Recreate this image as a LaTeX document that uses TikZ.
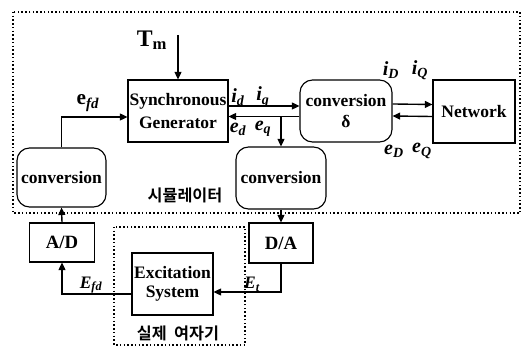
\documentclass[tikz,border=0pt]{standalone}
\usepackage{fontspec}
\setmainfont{Liberation Serif}
\newfontfamily\krfont{Noto Sans CJK KR}[BoldFont={Noto Sans CJK KR Bold}]
\usetikzlibrary{positioning,arrows.meta,calc}
\newcommand{\sv}[2]{\textit{#1}\textsubscript{\textit{#2}}}

\begin{document}
\begin{tikzpicture}[x=0.8pt, y=-0.8pt,
  font=\bfseries\fontsize{14}{15}\selectfont,
  box/.style={draw, line width=0.9pt, align=center, inner sep=1pt},
  conv/.style={box, rounded corners=10pt},
  arr/.style={-{Triangle[length=6pt,width=5.5pt]}, line width=1.1pt},
  frame/.style={line width=1.3pt, dash pattern=on 1.2pt off 1.8pt},
  sig/.style={inner sep=0pt, font=\bfseries\itshape\fontsize{16}{17}\selectfont},
  kor/.style={inner sep=0pt, font=\krfont\bfseries\fontsize{13}{14}\selectfont}
]
\useasboundingbox (0,0) rectangle (522,347);
% frames
\draw[frame] (13,12) rectangle (520,213);
\draw[frame] (114,227) rectangle (245,345);
% blocks
\node[box, minimum width=80pt, minimum height=49.6pt] (sg) at (178,111) {Synchronous\\[3pt]Generator};
\node[conv, minimum width=73.6pt, minimum height=49.6pt] (convd) at (346,111) {conversion\\[2pt]δ};
\node[box, minimum width=65.6pt, minimum height=50.4pt] (net) at (474,111.5) {Network};
\node[conv, minimum width=71.2pt, minimum height=47.2pt] (convl) at (61.5,177.5) {conversion};
\node[conv, minimum width=72pt, minimum height=49.6pt] (convr) at (281,178) {conversion};
\node[box, minimum width=52pt, minimum height=31.2pt, font=\bfseries\fontsize{15}{16}\selectfont] (ad) at (62,242.5) {A/D};
\node[box, minimum width=51.2pt, minimum height=32pt, font=\bfseries\fontsize{15}{16}\selectfont] (da) at (281,243) {D/A};
\node[box, minimum width=64.8pt, minimum height=49.6pt] (exc) at (172.5,284) {Excitation\\System};
% labels
\node[inner sep=0pt, font=\bfseries\fontsize{19}{20}\selectfont] (tm) at (152,40) {T\textsubscript{m}};
\coordinate (tmtop) at (178,35);
\node[sig, font=\bfseries\fontsize{17}{18}\selectfont] (efd) at (88,103) {e\textsubscript{\textit{fd}}};
\node[sig] (id) at (238,97) {\sv{i}{d}};
\node[sig] (iq) at (263,97) {\sv{i}{q}};
\node[sig] (ed) at (238,129) {\sv{e}{d}};
\node[sig] (eq) at (263,129) {\sv{e}{q}};
\node[sig] (iD) at (391,70) {\sv{i}{D}};
\node[sig] (iQ) at (420,70) {\sv{i}{Q}};
\node[sig] (eD) at (394,151) {\sv{e}{D}};
\node[sig] (eQ) at (422,151) {\sv{e}{Q}};
\node[sig, font=\bfseries\itshape\fontsize{14}{15}\selectfont] (Efd) at (91,285) {\sv{E}{fd}};
\node[sig, font=\bfseries\itshape\fontsize{14}{15}\selectfont] (Et) at (252,284) {\sv{E}{t}};
\node[kor] (sim) at (185,195) {시뮬레이터};
\node[kor] (real) at (178,333) {실제\ \ 여자기};
% connections
\draw[arr] (tmtop) -- (sg.north);
\draw[arr] (convl.north) |- ([yshift=-4.8pt]sg.west);
\draw[arr] ([yshift=4pt]sg.east) -- ([yshift=4pt]convd.west);
\draw[arr] ([yshift=-4.4pt]convd.west) -- ([yshift=-4.4pt]sg.east);
\coordinate (br) at ([yshift=-4.4pt]convd.west -| convr.north);
\draw[arr] (br) -- (convr.north);
\draw[arr] ([yshift=5.6pt]convd.east) -- ([yshift=5.6pt]net.west);
\draw[arr] ([yshift=-4pt]net.west) -- ([yshift=-4pt]convd.east);
\draw[arr] (ad.north) -- (convl.south);
\draw[arr] (convr.south) -- (da.north);
\draw[arr] ([yshift=-8pt]exc.west) -| (ad.south);
\draw[arr] (da.south) |- ([yshift=-6.4pt]exc.east);
\end{tikzpicture}
\end{document}
